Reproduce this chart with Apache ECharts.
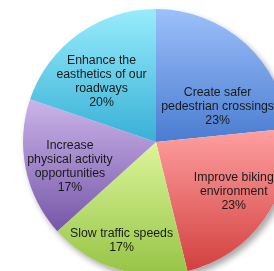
<!DOCTYPE html>
<html>
<head>
<meta charset="utf-8">
<script src="https://cdn.jsdelivr.net/npm/echarts@6/dist/echarts.min.js"></script>
<style>
  html, body { margin: 0; padding: 0; background: #fff; }
  #chart { width: 274px; height: 271px; }
</style>
</head>
<body>
<div id="chart"></div>
<script>
  // survey answers, clockwise from 12 o'clock
  const categories = [
    'Create safer\npedestrian crossings',
    'Improve biking\nenvironment',
    'Slow traffic speeds',
    'Increase\nphysical activity\nopportunities',
    'Enhance the\neasthetics of our\nroadways'
  ];
  const values = [23.4, 22.8, 17.1, 16.9, 19.8];

  // light (top) -> dark (bottom) per slice
  const topColors = ['#9cc0fa', '#ffa0a0', '#dcf59a', '#cbb4ea', '#98ecfc'];
  const bottomColors = ['#4a7cd0', '#d2403f', '#96c445', '#7656a8', '#38b0d6'];

  // nudges so the labels sit like the original
  const labelShift = [[15, 16], [21, 9], [-14, 32], [-18, 11], [-14, -4]];

  const total = values.reduce((a, b) => a + b, 0);

  const chart = echarts.init(document.getElementById('chart'));
  const option = {
    animation: false,
    series: [
      {
        // shadow disc behind the slices
        type: 'pie',
        silent: true,
        center: [156, 142],
        radius: 133,
        label: { show: false },
        itemStyle: {
          color: '#fff',
          shadowBlur: 6,
          shadowOffsetX: 3,
          shadowOffsetY: 4,
          shadowColor: 'rgba(0,0,0,0.35)'
        },
        data: [{ value: total }]
      },
      {
        type: 'pie',
        center: [156, 142],
        radius: 133,
        startAngle: 90,
        clockwise: true,
        itemStyle: { borderWidth: 0 },
        label: {
          position: 'inside',
          fontFamily: 'Liberation Sans, Arial, sans-serif',
          fontSize: 12.3,
          lineHeight: 14,
          color: '#1a1a1a',
          align: 'center',
          formatter: p => p.name + '\n' + Math.round(p.percent) + '%'
        },
        labelLayout: p => ({ dx: labelShift[p.dataIndex][0], dy: labelShift[p.dataIndex][1] }),
        data: categories.map((name, i) => ({
          name: name,
          value: values[i],
          itemStyle: {
            color: new echarts.graphic.LinearGradient(0, 0, 0, 1, [
              { offset: 0, color: topColors[i] },
              { offset: 1, color: bottomColors[i] }
            ])
          }
        }))
      }
    ]
  };
  chart.setOption(option);
</script>
</body>
</html>
